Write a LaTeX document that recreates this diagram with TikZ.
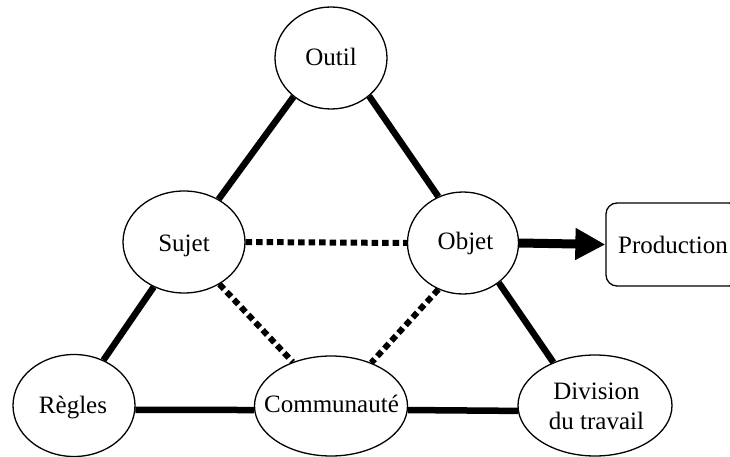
\documentclass[tikz,border=0pt]{standalone}
\usepackage{fontspec}
\setmainfont{Liberation Serif}
\usetikzlibrary{shapes.geometric,arrows.meta,backgrounds}
\begin{document}
\begin{tikzpicture}[x=1pt,y=-1pt,
  font=\fontsize{25}{30}\selectfont,
  ell/.style={ellipse, draw, line width=1.3pt, fill=white, inner sep=0pt},
  txt/.style={inner sep=0pt, text height=17pt, text depth=0pt},
  solidline/.style={line width=6.5pt},
  dotline/.style={line width=6pt, dash pattern=on 6.5pt off 4pt},
  arrowline/.style={line width=9pt, -{Triangle[length=30pt,width=30pt]}},
  prodbox/.style={draw, line width=1.3pt, rounded corners=11pt, fill=white, inner sep=0pt},
]
\useasboundingbox (0,0) rectangle (730,457);
\clip (0,0) rectangle (730,457);

% ellipses
\node[ell, minimum width=112pt, minimum height=102pt] (Outil) at (331,58) {};
\node[ell, minimum width=122pt, minimum height=102pt] (Sujet) at (184,242) {};
\node[ell, minimum width=111pt, minimum height=102pt] (Objet) at (463,243) {};
\node[ell, minimum width=122pt, minimum height=102pt] (Regles) at (74,405.5) {};
\node[ell, minimum width=153pt, minimum height=100pt] (Comm) at (331,406) {};
\node[ell, minimum width=154pt, minimum height=101pt] (Div) at (595,405.5) {};
\node[prodbox, minimum width=134pt, minimum height=83pt] (Prod) at (673,244.5) {};

% texts
\node[txt] (tOutil) at (331,57.5) {Outil};
\node[txt] (tSujet) at (184,242.5) {Sujet};
\node[txt] (tObjet) at (465.5,240.5) {Objet};
\node[txt] (tRegles) at (73,404.5) {Règles};
\node[txt] (tComm) at (331.5,403.5) {Communauté};
\node[inner sep=0pt, align=center] (tDiv) at (596.5,406.5) {Division\\du travail};
\node[txt] (tProd) at (673,244.5) {Production};

% connectors
\begin{scope}[on background layer]
  \draw[solidline] (Outil.226) -- (Sujet.51);
  \draw[solidline] (Sujet.236) -- (Regles.57.5);
  \draw[solidline] (Outil.315) -- (Objet.118.5);
  \draw[solidline] (Objet.312.8) -- (Div.134);
  \draw[solidline] (Regles.-4.2) -- (Comm.183.4);
  \draw[solidline] (Comm.-3.4) -- (Div.184.2);
  \draw[dotline] (Sujet.east) -- (Objet.west);
  \draw[dotline] (Sujet.310.6) -- (Comm.131);
  \draw[dotline] (Objet.242.9) -- (Comm.47.5);
\end{scope}
\draw[arrowline] (Objet.east) -- (Prod.west);
\end{tikzpicture}
\end{document}
